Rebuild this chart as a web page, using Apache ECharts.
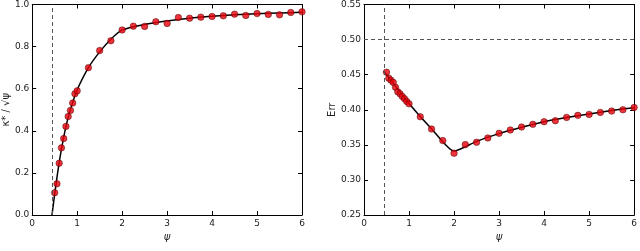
<!DOCTYPE html>
<html><head><meta charset="utf-8">
<script src="https://cdn.jsdelivr.net/npm/echarts@6/dist/echarts.min.js"></script>
<style>html,body{margin:0;padding:0;background:#fff}#c{width:640px;height:251px}</style>
</head><body><div id="c"></div>
<script>
// Left panel: kappa*/sqrt(psi) vs psi
const psiPts = [0.5,0.55,0.6,0.65,0.7,0.75,0.8,0.85,0.9,0.95,1.0,1.25,1.5,1.75,2.0,2.25,2.5,2.75,3.0,3.25,3.5,3.75,4.0,4.25,4.5,4.75,5.0,5.25,5.5,5.75,6.0];
const kappaPts = [0.106,0.148,0.246,0.319,0.363,0.421,0.468,0.497,0.532,0.576,0.59,0.70,0.781,0.828,0.879,0.897,0.896,0.918,0.91,0.938,0.935,0.940,0.943,0.946,0.954,0.948,0.957,0.953,0.951,0.962,0.965];
const psiLineL = [0.44,0.5,0.6,0.7,0.8,0.9,1.0,1.25,1.5,1.75,2.0,2.5,3.0,3.5,4.0,4.5,5.0,5.5,6.0];
const kappaLine = [0.0,0.10,0.25,0.37,0.465,0.535,0.595,0.70,0.775,0.835,0.878,0.905,0.922,0.935,0.944,0.951,0.956,0.960,0.963];
// Right panel: Err vs psi
const errPts = [0.4535,0.445,0.442,0.439,0.432,0.4255,0.4227,0.419,0.4156,0.4118,0.4085,0.390,0.3725,0.356,0.338,0.3503,0.3536,0.3598,0.3664,0.3711,0.3754,0.3792,0.3830,0.3844,0.3891,0.3920,0.3934,0.3962,0.3981,0.400,0.4033];
const psiLineR = [0.44,1.0,1.5,2.0,2.5,3.0,3.5,4.0,4.5,5.0,5.5,6.0];
const errLine = [0.455,0.409,0.373,0.341,0.355,0.366,0.375,0.383,0.389,0.394,0.399,0.403];
const psiThreshold = 0.44;
const errRef = 0.5;

const pair = (xs, ys) => xs.map((x, i) => [x, ys[i]]);
const font = 'DejaVu Sans';
const tc = '#222';
function xAx(gi, top) {
  return {type:'value', gridIndex:gi, min:0, max:6, interval:1, position: top?'top':'bottom',
    axisLine:{show:true, onZero:false, lineStyle:{color:'#000', width:1}},
    axisTick:{show:true, inside:true, length:4, lineStyle:{color:'#000'}},
    axisLabel:{show:!top, color:tc, fontFamily:font, fontSize:9, margin:4},
    splitLine:{show:false},
    name: top?'':'ψ', nameLocation:'middle', nameGap:17,
    nameTextStyle:{color:tc, fontFamily:font, fontSize:10, fontStyle:'italic'}};
}
function yAx(gi, right, min, max, interval, dec, name, gap) {
  return {type:'value', gridIndex:gi, min:min, max:max, interval:interval, position: right?'right':'left',
    axisLine:{show:true, onZero:false, lineStyle:{color:'#000', width:1}},
    axisTick:{show:true, inside:true, length:4, lineStyle:{color:'#000'}},
    axisLabel:{show:!right, color:tc, fontFamily:font, fontSize:9, margin:3, formatter:v=>v.toFixed(dec)},
    splitLine:{show:false},
    name: right?'':name, nameLocation:'middle', nameGap:gap, nameRotate:90,
    nameTextStyle:{color:tc, fontFamily:font, fontSize:10}};
}
const dash = {color:'#555', type:[4,3], width:1};
const scatterStyle = {color:'#e8000b', borderColor:'#400', borderWidth:0.6};
const option = {
  animation:false,
  grid:[{left:29, right:338, top:3, bottom:36}, {left:364, right:3, top:3, bottom:36}],
  xAxis:[xAx(0,false), xAx(0,true), xAx(1,false), xAx(1,true)],
  yAxis:[yAx(0,false,0,1,0.2,1,'κ* / √ψ',21), yAx(0,true,0,1,0.2,1,'',0),
         yAx(1,false,0.25,0.55,0.05,2,'Err',27), yAx(1,true,0.25,0.55,0.05,2,'',0)],
  series:[
    {type:'line', xAxisIndex:0, yAxisIndex:0, data:pair(psiLineL,kappaLine), symbol:'none', smooth:0.3,
     lineStyle:{color:'#000', width:1.5}, z:3,
     markLine:{silent:true, symbol:'none', label:{show:false}, lineStyle:dash, data:[{xAxis:psiThreshold}]}},
    {type:'scatter', xAxisIndex:0, yAxisIndex:0, data:pair(psiPts,kappaPts), symbolSize:6.5, itemStyle:scatterStyle, z:4},
    {type:'line', xAxisIndex:2, yAxisIndex:2, data:pair(psiLineR,errLine), symbol:'none', smooth:0.2,
     lineStyle:{color:'#000', width:1.5}, z:3,
     markLine:{silent:true, symbol:'none', label:{show:false}, lineStyle:dash, data:[{xAxis:psiThreshold},{yAxis:errRef}]}},
    {type:'scatter', xAxisIndex:2, yAxisIndex:2, data:pair(psiPts,errPts), symbolSize:6.5, itemStyle:scatterStyle, z:4}
  ]
};
echarts.init(document.getElementById('c')).setOption(option);
</script></body></html>
